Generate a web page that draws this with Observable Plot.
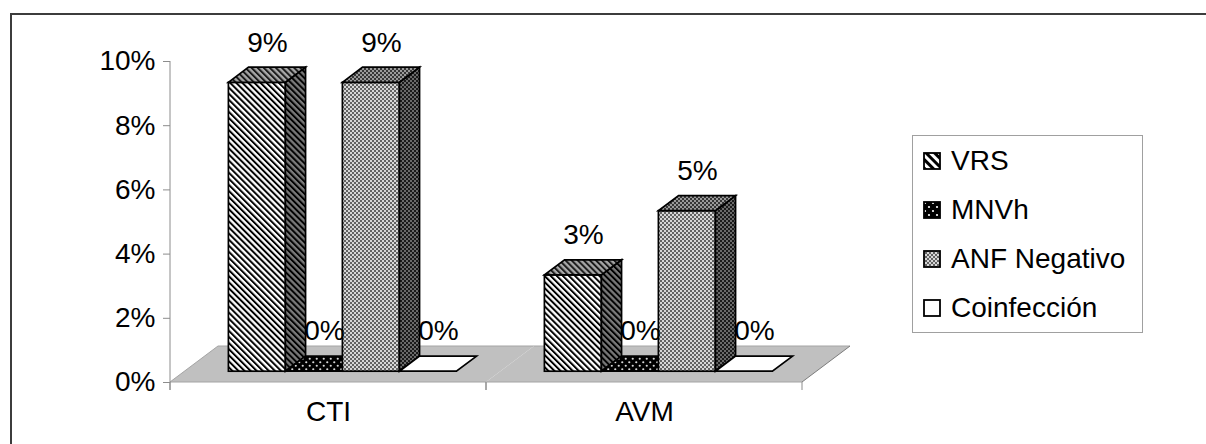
<!DOCTYPE html>
<html>
<head>
<meta charset="utf-8">
<script src="https://cdn.jsdelivr.net/npm/d3@7"></script>
<script src="https://cdn.jsdelivr.net/npm/@observablehq/plot@0.6"></script>
<style>
  html, body { margin: 0; padding: 0; background: #fff; }
  body { width: 1206px; height: 444px; position: relative; overflow: hidden;
         font-family: 'Liberation Sans', Arial, sans-serif; }
  #border { position: absolute; left: 10px; top: 13px; width: 1400px; height: 600px;
            border-left: 2px solid #3c3c3c; border-top: 2px solid #3c3c3c; }
  #chart { position: absolute; left: 0; top: 0; }
  #legend { position: absolute; left: 912px; top: 135px; width: 231px; height: 198px;
            box-sizing: border-box; border: 1.5px solid #a0a0a0; background: #fff; }
  .item { position: absolute; left: 10px; height: 30px; display: flex; align-items: center;
          font-size: 28px; color: #000; white-space: nowrap; }
  .item svg { margin-right: 9px; flex: none; }
</style>
</head>
<body>
<div id="border"></div>
<div id="chart"></div>
<div id="legend"></div>
<script>
// Categories, series and values (percent)
const categories = ["CTI", "AVM"];
const series = ["VRS", "MNVh", "ANF Negativo", "Coinfección"];
const valuesCTI = [9, 0, 9, 0];
const valuesAVM = [3, 0, 5, 0];
const yTicks = [0, 2, 4, 6, 8, 10];

const rows = categories.flatMap((cat, ci) =>
  series.map((serie, si) => ({cat, serie, si, value: [valuesCTI, valuesAVM][ci][si]}))
);

// Pseudo-3D geometry: the floor recedes by FLOOR; bars sit between 30% and 72% of that depth.
const FLOOR = {dx: 48, dy: -36};
const FRONT = {dx: FLOOR.dx * 0.3, dy: FLOOR.dy * 0.3};
const DEPTH = {dx: FLOOR.dx * 0.42, dy: FLOOR.dy * 0.42};

// Fill patterns
const defs = d3.select("body").append("svg")
  .attr("width", 0).attr("height", 0)
  .style("position", "absolute").append("defs");

function stripes(id, bg, fg, size = 4.3, share = 0.46) {
  const p = defs.append("pattern").attr("id", id)
    .attr("patternUnits", "userSpaceOnUse")
    .attr("width", size).attr("height", size)
    .attr("patternTransform", "rotate(-45)");
  p.append("rect").attr("width", size).attr("height", size).attr("fill", bg);
  p.append("rect").attr("width", size * share).attr("height", size).attr("fill", fg);
}
function checker(id, a, b, s = 2) {
  const p = defs.append("pattern").attr("id", id)
    .attr("patternUnits", "userSpaceOnUse")
    .attr("width", 2 * s).attr("height", 2 * s);
  p.append("rect").attr("width", 2 * s).attr("height", 2 * s).attr("fill", a);
  p.append("rect").attr("width", s).attr("height", s).attr("fill", b);
  p.append("rect").attr("x", s).attr("y", s).attr("width", s).attr("height", s).attr("fill", b);
}
function dots(id, bg, fg, s = 7) {
  const p = defs.append("pattern").attr("id", id)
    .attr("patternUnits", "userSpaceOnUse")
    .attr("width", s).attr("height", s);
  p.append("rect").attr("width", s).attr("height", s).attr("fill", bg);
  p.append("circle").attr("cx", s / 4).attr("cy", s / 4).attr("r", 1.1).attr("fill", fg);
  p.append("circle").attr("cx", 3 * s / 4).attr("cy", 3 * s / 4).attr("r", 1.1).attr("fill", fg);
}

stripes("vrs-front", "#ffffff", "#000000");
stripes("vrs-top", "#a8a8a8", "#1a1a1a");
stripes("vrs-side", "#7a7a7a", "#000000");
stripes("vrs-key", "#ffffff", "#000000", 6, 0.5);
dots("mnv-front", "#000000", "#d8d8d8");
dots("mnv-key", "#000000", "#ffffff", 8);
checker("anf-front", "#d6d6d6", "#626262");
checker("anf-top", "#9a9a9a", "#363636");
checker("anf-side", "#6a6a6a", "#1a1a1a");

const faces = [
  {front: "url(#vrs-front)", top: "url(#vrs-top)", side: "url(#vrs-side)", key: "url(#vrs-key)"},
  {front: "url(#mnv-front)", top: "url(#mnv-front)", side: "url(#mnv-front)", key: "url(#mnv-key)"},
  {front: "url(#anf-front)", top: "url(#anf-top)", side: "url(#anf-side)", key: "url(#anf-front)"},
  {front: "#ffffff", top: "#ffffff", side: "#ffffff", key: "#ffffff"}
];

const chart = Plot.plot({
  width: 880,
  height: 444,
  marginLeft: 170,
  marginRight: 78,
  marginTop: 61,
  marginBottom: 62,
  style: {fontFamily: "'Liberation Sans', Arial, sans-serif", fontSize: "28px", background: "none", overflow: "visible"},
  fx: {domain: categories, padding: 0, label: null},
  x: {domain: series, paddingInner: 0, paddingOuter: 0.75, axis: null},
  y: {domain: [0, 10], axis: null},
  marks: [
    // floor slab, value axis line and category boundary ticks (one slab section per category)
    Plot.dot(categories, {
      fx: d => d,
      frameAnchor: "middle",
      render(index, scales) {
        const [xa, xb] = scales.x.range();
        const [y0, y1] = scales.y.range();
        const cat = categories[index[0]];
        const first = cat === categories[0];
        const last = cat === categories[categories.length - 1];
        const g = d3.create("svg:g");
        g.append("path")
          .attr("d", `M${xa},${y0}L${xb},${y0}L${xb + FLOOR.dx},${y0 + FLOOR.dy}L${xa + FLOOR.dx},${y0 + FLOOR.dy}Z`)
          .attr("fill", "#c0c0c0").attr("stroke", "none");
        g.append("path")
          .attr("d", `M${xa},${y0}H${xb}M${xa + FLOOR.dx},${y0 + FLOOR.dy}H${xb + FLOOR.dx}`)
          .attr("stroke", "#a4a4a4").attr("fill", "none");
        if (first) g.append("path")
          .attr("d", `M${xa},${y0}L${xa + FLOOR.dx},${y0 + FLOOR.dy}`)
          .attr("stroke", "#a4a4a4");
        if (last) g.append("path")
          .attr("d", `M${xb},${y0}L${xb + FLOOR.dx},${y0 + FLOOR.dy}`)
          .attr("stroke", "#7c7c7c");
        g.append("path")
          .attr("d", `M${xa},${y0}v8M${xb},${y0}v8`)
          .attr("stroke", "#8c8c8c");
        if (first) g.append("path")
          .attr("d", `M${xa},${y1}V${y0 + 8}`)
          .attr("stroke", "#8c8c8c");
        return g.node();
      }
    }),
    // columns: front face, side face and top face
    Plot.barY(rows, {
      fx: "cat",
      x: "serie",
      y: "value",
      render(index, scales, values) {
        const w = scales.x.bandwidth();
        const g = d3.create("svg:g")
          .attr("stroke", "#000").attr("stroke-width", 1.7).attr("stroke-linejoin", "miter");
        for (const i of index) {
          const f = faces[rows[i].si];
          const xl = values.x[i] + FRONT.dx, xr = xl + w;
          const yb = Math.max(values.y1[i], values.y2[i]) + FRONT.dy;
          const yt = Math.min(values.y1[i], values.y2[i]) + FRONT.dy;
          if (yb - yt > 0.5) {
            g.append("rect").attr("x", xl).attr("y", yt).attr("width", w).attr("height", yb - yt)
              .attr("fill", f.front);
            g.append("path")
              .attr("d", `M${xr},${yt}L${xr + DEPTH.dx},${yt + DEPTH.dy}L${xr + DEPTH.dx},${yb + DEPTH.dy}L${xr},${yb}Z`)
              .attr("fill", f.side);
          }
          g.append("path")
            .attr("d", `M${xl},${yt}L${xr},${yt}L${xr + DEPTH.dx},${yt + DEPTH.dy}L${xl + DEPTH.dx},${yt + DEPTH.dy}Z`)
            .attr("fill", f.top);
        }
        return g.node();
      }
    }),
    // value labels
    Plot.text(rows, {
      fx: "cat",
      x: "serie",
      y: "value",
      text: d => `${d.value}%`,
      dx: FRONT.dx + DEPTH.dx / 2,
      dy: -51,
      fontSize: 28,
      fill: "#000"
    }),
    Plot.axisY(yTicks, {
      tickFormat: d => `${d}%`,
      tickSize: 7,
      tickPadding: 8,
      stroke: "#8c8c8c",
      fontSize: 28,
      label: null
    }),
    Plot.axisFx({
      anchor: "bottom",
      tickSize: 0,
      tickPadding: 19,
      fontSize: 28,
      label: null
    })
  ]
});
document.getElementById("chart").appendChild(chart);

// Legend
const legend = d3.select("#legend");
series.forEach((name, i) => {
  const item = legend.append("div").attr("class", "item").style("top", `${10 + i * 49}px`);
  const sw = item.append("svg").attr("width", 19).attr("height", 19);
  sw.append("rect").attr("x", 1).attr("y", 1).attr("width", 16).attr("height", 16)
    .attr("fill", faces[i].key).attr("stroke", "#000").attr("stroke-width", 1.8);
  item.append("span").text(name);
});
</script>
</body>
</html>
